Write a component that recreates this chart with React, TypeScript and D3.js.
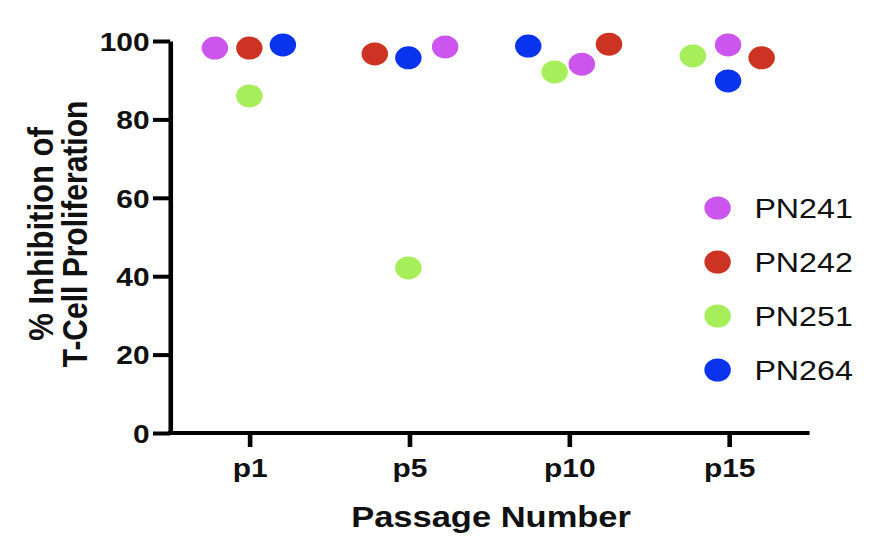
import { useRef, useEffect } from 'react';
import { select, scaleBand, scaleLinear, axisLeft, axisBottom } from 'd3';

const passages = ['p1', 'p5', 'p10', 'p15'];
const seriesNames = ['PN241', 'PN242', 'PN251', 'PN264'];
const seriesColors = ['#cc55ee', '#cc3322', '#a6ee5a', '#0a33ee'];
const yTicks = [0, 20, 40, 60, 80, 100];

// % inhibition per passage
const pn241 = [98.2, 98.5, 94.1, 99.0];
const pn242 = [98.2, 96.7, 99.2, 95.7];
const pn251 = [86.0, 42.1, 92.1, 96.2];
const pn264 = [99.0, 95.7, 98.7, 89.8];

// scatter jitter, as a fraction of the column width
const jit241 = [-0.22, 0.22, 0.075, -0.01];
const jit242 = [-0.005, -0.22, 0.245, 0.2];
const jit251 = [-0.005, -0.01, -0.095, -0.23];
const jit264 = [0.205, -0.01, -0.26, -0.01];

const allValues = [pn241, pn242, pn251, pn264];
const allJitter = [jit241, jit242, jit251, jit264];

const W = 888;
const H = 548;
const SX = 1.15; // the figure is stretched horizontally
const VW = W / SX;
const FONT = "'Liberation Sans', Arial, Helvetica, sans-serif";

const Chart = () => {
  const ref = useRef(null);

  useEffect(() => {
    if (!ref.current) return;
    const svg = select(ref.current);
    svg.selectAll('*').remove();

    const left = 148;
    const right = 704;
    const top = 41;
    const bottom = 433;

    const x = scaleBand().domain(passages).range([left, right]);
    const y = scaleLinear().domain([0, 100]).range([bottom, top]);

    const yAxis = axisLeft(y).tickValues(yTicks).tickSize(15).tickSizeOuter(0).tickPadding(3);
    const gy = svg.append('g').attr('transform', `translate(${left},0)`).call(yAxis);
    gy.selectAll('path, line').attr('stroke', '#000').attr('stroke-width', 4);
    gy.selectAll('text')
      .attr('font-family', FONT)
      .attr('font-size', 26)
      .attr('font-weight', 'bold')
      .attr('fill', '#111')
      .attr('dy', '0.36em');

    const xAxis = axisBottom(x).tickSize(14).tickSizeOuter(0).tickPadding(12);
    const gx = svg.append('g').attr('transform', `translate(0,${bottom})`).call(xAxis);
    gx.select('.domain').attr('d', `M${left - 2},0H${right}`);
    gx.selectAll('path, line').attr('stroke', '#000').attr('stroke-width', 4);
    gx.selectAll('text')
      .attr('font-family', FONT)
      .attr('font-size', 26)
      .attr('font-weight', 'bold')
      .attr('fill', '#111')
      .attr('dy', '0.71em');

    // points
    allValues.forEach((vals, si) => {
      svg
        .append('g')
        .selectAll('circle')
        .data(vals)
        .join('circle')
        .attr('cx', (_, i) => (x(passages[i]) ?? 0) + x.bandwidth() / 2 + allJitter[si][i] * x.step())
        .attr('cy', (d) => y(d))
        .attr('r', 11.5)
        .attr('fill', seriesColors[si]);
    });

    // axis titles
    svg
      .append('text')
      .attr('x', (left + right) / 2 + 1)
      .attr('y', 527)
      .attr('text-anchor', 'middle')
      .attr('font-family', FONT)
      .attr('font-size', 30)
      .attr('font-weight', 'bold')
      .attr('fill', '#111')
      .text('Passage Number');

    const ty = svg.append('g').attr('transform', 'translate(0,234) rotate(-90)');
    ty.append('text')
      .attr('x', 0)
      .attr('y', 46)
      .attr('text-anchor', 'middle')
      .attr('font-family', FONT)
      .attr('font-size', 31)
      .attr('font-weight', 'bold')
      .attr('fill', '#111')
      .text('% Inhibition of');
    ty.append('text')
      .attr('x', 0)
      .attr('y', 76)
      .attr('text-anchor', 'middle')
      .attr('font-family', FONT)
      .attr('font-size', 30)
      .attr('font-weight', 'bold')
      .attr('fill', '#111')
      .text('T-Cell Proliferation');

    // legend
    const legend = svg
      .append('g')
      .selectAll('g')
      .data(seriesNames)
      .join('g')
      .attr('transform', (_, i) => `translate(624,${208 + i * 54})`);
    legend.append('circle').attr('r', 11.5).attr('fill', (_, i) => seriesColors[i]);
    legend
      .append('text')
      .attr('x', 32)
      .attr('y', 10)
      .attr('font-family', FONT)
      .attr('font-size', 28)
      .attr('fill', '#111')
      .text((d) => d);
  }, []);

  return (
    <svg
      ref={ref}
      width={W}
      height={H}
      viewBox={`0 0 ${VW} ${H}`}
      preserveAspectRatio="none"
      style={{ position: 'absolute', left: 0, top: 0, background: '#fff' }}
    />
  );
};

export default function App() {
  return <Chart />;
}
